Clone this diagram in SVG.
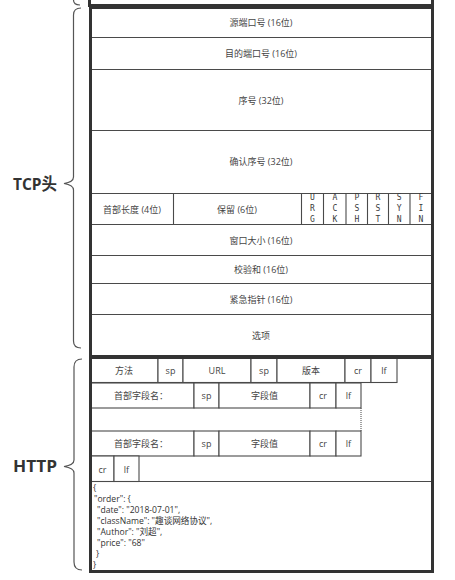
<svg xmlns="http://www.w3.org/2000/svg" width="455" height="580" viewBox="0 0 455 580">
<style>
.frame{fill:none;stroke:#333;stroke-width:3}
.ln{stroke:#4a4a4a;stroke-width:1.1;fill:none}
.cell{fill:#fff;stroke:#4a4a4a;stroke-width:1.1}
.t{font-family:"Open Sans","Noto Sans CJK SC",sans-serif;font-size:9px;fill:#444;text-anchor:middle;dominant-baseline:central}
.f{font-family:"DejaVu Sans Mono",monospace;font-size:8px;fill:#3a3a3a;text-anchor:middle;dominant-baseline:central}
.j{font-family:"Open Sans","Noto Sans CJK SC",sans-serif;font-size:8.6px;fill:#333}
.lbl{font-family:"Open Sans","Noto Sans CJK SC",sans-serif;font-size:16.8px;font-weight:bold;fill:#333;dominant-baseline:central}
.brace{fill:none;stroke:#555;stroke-width:1.2}
</style>
<rect width="455" height="580" fill="#fff"/>

<g id="prev-section">
<rect class="frame" x="89.5" y="-10" width="343" height="15.5"/>
</g>

<g id="tcp">
<rect x="90.5" y="7.5" width="342" height="349" fill="#fff"/>
<line class="ln" x1="91" y1="37.5" x2="432" y2="37.5"/>
<line class="ln" x1="91" y1="69.5" x2="432" y2="69.5"/>
<line class="ln" x1="91" y1="130.5" x2="432" y2="130.5"/>
<line class="ln" x1="91" y1="193.5" x2="432" y2="193.5"/>
<line class="ln" x1="91" y1="224.5" x2="432" y2="224.5"/>
<line class="ln" x1="91" y1="255.5" x2="432" y2="255.5"/>
<line class="ln" x1="91" y1="283.5" x2="432" y2="283.5"/>
<line class="ln" x1="91" y1="314.5" x2="432" y2="314.5"/>
<line class="ln" x1="173.5" y1="193.5" x2="173.5" y2="224.5"/>
<line class="ln" x1="301.5" y1="193.5" x2="301.5" y2="224.5"/>
<line class="ln" x1="323.5" y1="193.5" x2="323.5" y2="224.5"/>
<line class="ln" x1="346" y1="193.5" x2="346" y2="224.5"/>
<line class="ln" x1="367.5" y1="193.5" x2="367.5" y2="224.5"/>
<line class="ln" x1="388.5" y1="193.5" x2="388.5" y2="224.5"/>
<line class="ln" x1="410" y1="193.5" x2="410" y2="224.5"/>
<text class="t" x="261" y="22.5">源端口号 (16位)</text>
<text class="t" x="261" y="53.5">目的端口号 (16位)</text>
<text class="t" x="261" y="100">序号 (32位)</text>
<text class="t" x="261" y="161.5">确认序号 (32位)</text>
<text class="t" x="132" y="209">首部长度 (4位)</text>
<text class="t" x="237" y="209">保留 (6位)</text>
<g class="f">
<text x="312.5" y="197">U</text><text x="312.5" y="208.3">R</text><text x="312.5" y="219">G</text>
<text x="334.8" y="197">A</text><text x="334.8" y="208.3">C</text><text x="334.8" y="219">K</text>
<text x="356.8" y="197">P</text><text x="356.8" y="208.3">S</text><text x="356.8" y="219">H</text>
<text x="378" y="197">R</text><text x="378" y="208.3">S</text><text x="378" y="219">T</text>
<text x="399.2" y="197">S</text><text x="399.2" y="208.3">Y</text><text x="399.2" y="219">N</text>
<text x="421" y="197">F</text><text x="421" y="208.3">I</text><text x="421" y="219">N</text>
</g>
<text class="t" x="261" y="240">窗口大小 (16位)</text>
<text class="t" x="261" y="269.5">校验和 (16位)</text>
<text class="t" x="261" y="299">紧急指针 (16位)</text>
<text class="t" x="261" y="335.5">选项</text>
<rect class="frame" x="90.5" y="7.5" width="342" height="349"/>
</g>

<g id="http">
<rect x="90.5" y="357.5" width="342" height="214" fill="#fff"/>
<g id="request-line">
<rect class="cell" x="91" y="358" width="67" height="24.5"/>
<rect class="cell" x="158" y="358" width="25" height="24.5"/>
<rect class="cell" x="183" y="358" width="68" height="24.5"/>
<rect class="cell" x="251" y="358" width="26" height="24.5"/>
<rect class="cell" x="277" y="358" width="68" height="24.5"/>
<rect class="cell" x="345" y="358" width="26" height="24.5"/>
<rect class="cell" x="371" y="358" width="26" height="24.5"/>
<text class="t" x="124" y="370.5">方法</text>
<text class="t" x="170.5" y="370.5">sp</text>
<text class="t" x="217" y="370.5">URL</text>
<text class="t" x="264" y="370.5">sp</text>
<text class="t" x="311" y="370.5">版本</text>
<text class="t" x="358" y="370.5">cr</text>
<text class="t" x="384" y="370.5">lf</text>
</g>
<g id="header-1">
<rect class="cell" x="91" y="383" width="103" height="25"/>
<rect class="cell" x="194" y="383" width="25" height="25"/>
<rect class="cell" x="219" y="383" width="91" height="25"/>
<rect class="cell" x="310" y="383" width="26" height="25"/>
<rect class="cell" x="336" y="383" width="25" height="25"/>
<text class="t" x="141" y="395.5">首部字段名：</text>
<text class="t" x="206.5" y="395.5">sp</text>
<text class="t" x="264.5" y="395.5">字段值</text>
<text class="t" x="323" y="395.5">cr</text>
<text class="t" x="348.5" y="395.5">lf</text>
</g>
<line x1="361" y1="408" x2="361" y2="431" stroke="#444" stroke-width="1" stroke-dasharray="1,1"/>
<g id="header-2">
<rect class="cell" x="91" y="431" width="103" height="25"/>
<rect class="cell" x="194" y="431" width="25" height="25"/>
<rect class="cell" x="219" y="431" width="91" height="25"/>
<rect class="cell" x="310" y="431" width="26" height="25"/>
<rect class="cell" x="336" y="431" width="25" height="25"/>
<text class="t" x="141" y="443.5">首部字段名：</text>
<text class="t" x="206.5" y="443.5">sp</text>
<text class="t" x="264.5" y="443.5">字段值</text>
<text class="t" x="323" y="443.5">cr</text>
<text class="t" x="348.5" y="443.5">lf</text>
</g>
<g id="crlf">
<rect class="cell" x="91" y="456" width="23" height="25.5"/>
<rect class="cell" x="114" y="456" width="25" height="25.5"/>
<text class="t" x="102.5" y="469">cr</text>
<text class="t" x="126.5" y="469">lf</text>
</g>
<line class="ln" x1="91" y1="481.5" x2="432" y2="481.5"/>
<g id="body" class="j">
<text x="93" y="491">{</text>
<text x="94" y="502">"order": {</text>
<text x="97" y="513">"date": "2018-07-01",</text>
<text x="97" y="524">"className": "趣谈网络协议",</text>
<text x="97" y="535">"Author": "刘超",</text>
<text x="97" y="546">"price": "68"</text>
<text x="96" y="557">}</text>
<text x="93" y="568">}</text>
</g>
<rect class="frame" x="90.5" y="357.5" width="342" height="214"/>
</g>

<g id="labels">
<text class="lbl" x="13" y="183" textLength="44" lengthAdjust="spacingAndGlyphs">TCP头</text>
<text class="lbl" x="13" y="465" textLength="44" lengthAdjust="spacingAndGlyphs">HTTP</text>
</g>

<g id="connectors">
<path class="brace" d="M73.5,-4 V0 Q73.5,5 80,5"/>
<path class="brace" d="M81,8 Q73.5,8 73.5,15 V177 Q73.5,182 64,183.5 Q73.5,185 73.5,190 V341 Q73.5,348 81,348"/>
<path class="brace" d="M82,359 Q74,359 74,367 V460 Q74,465 64,466.5 Q74,468 74,473 V562 Q74,570 82,570"/>
</g>
</svg>
